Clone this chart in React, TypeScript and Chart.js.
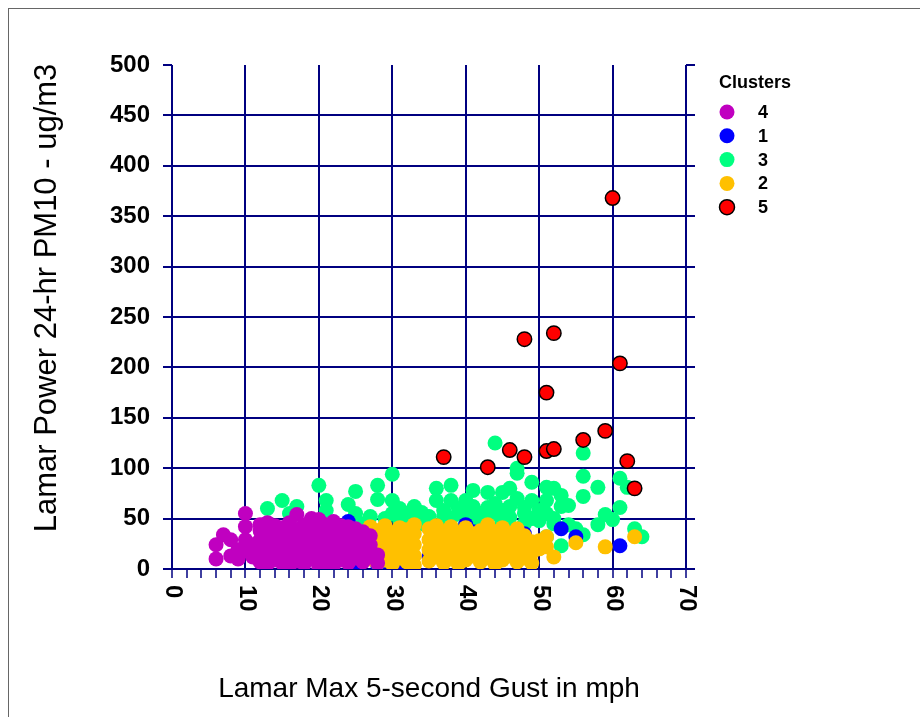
import React, { useEffect, useRef } from "react";
import { Chart, registerables } from "chart.js";

Chart.register(...registerables);

// ---------- DATA ----------
const legendLabels = ["4", "1", "3", "2", "5"];
const xTickLabels = [0, 10, 20, 30, 40, 50, 60, 70];
const xTitle = "Lamar Max 5-second Gust in mph";
const yTitle = "Lamar Power 24-hr PM10 - ug/m3";
const legendTitle = "Clusters";

// cluster 4 (purple)
const cluster4: [number, number][] = [
  [6, 24], [6, 10], [7, 34], [8, 29], [8, 13], [9, 19], [9, 10], [10, 55], [10, 42], [10, 29], [10, 18], [11, 12], [11, 24],
  [12, 7], [12, 16], [12, 29], [12, 38], [12, 44],
  [13, 5], [13, 21], [13, 33], [13, 46], [13, 12],
  [14, 9], [14, 26], [14, 37], [14, 18], [14, 43],
  [15, 6], [15, 14], [15, 30], [15, 41], [15, 22],
  [16, 11], [16, 24], [16, 35], [16, 46], [16, 4],
  [17, 8], [17, 19], [17, 28], [17, 39], [17, 54],
  [18, 5], [18, 15], [18, 33], [18, 44], [18, 24],
  [19, 10], [19, 21], [19, 37], [19, 50], [19, 29],
  [20, 2], [20, 13], [20, 25], [20, 41], [20, 33], [20, 49],
  [21, 7], [21, 18], [21, 30], [21, 44], [21, 36],
  [22, 4], [22, 14], [22, 26], [22, 38], [22, 47],
  [23, 9], [23, 20], [23, 33], [23, 43],
  [24, 6], [24, 15], [24, 27], [24, 36], [24, 42],
  [25, 11], [25, 22], [25, 31], [25, 40],
  [26, 7], [26, 18], [26, 28], [26, 37],
  [27, 12], [27, 24], [27, 33],
  [28, 14], [28, 6],
];

// cluster 1 (blue)
const cluster1: [number, number][] = [
  [24, 47], [26, 14], [25, 4], [28, 4], [29, 8], [31, 3], [35, 12], [38, 24], [40, 44], [41, 37],
  [42, 20], [44, 15], [46, 27], [46, 31], [48, 35], [53, 40], [55, 32], [61, 23],
];

// cluster 3 (green)
const cluster3: [number, number][] = [
  [13, 60], [15, 68], [17, 62], [16, 55], [20, 83], [21, 68], [21, 58], [24, 64], [25, 77], [25, 55],
  [26, 45], [28, 83], [28, 69], [27, 52], [30, 94], [30, 68], [31, 60], [33, 62], [32, 55], [30, 55],
  [29, 50], [31, 48], [33, 50], [34, 56], [35, 52], [35, 45], [36, 80], [36, 68], [37, 58], [37, 52],
  [38, 83], [38, 68], [38, 50], [39, 55], [39, 60], [40, 58], [40, 68], [41, 78], [41, 50], [41, 62],
  [42, 55], [42, 47], [43, 76], [43, 61], [43, 51], [44, 125], [44, 65], [44, 55], [45, 76], [45, 58],
  [45, 48], [46, 80], [46, 51], [46, 62], [47, 100], [47, 95], [47, 70], [48, 61], [48, 55], [49, 86],
  [49, 68], [49, 50], [50, 58], [50, 48], [51, 81], [51, 68], [51, 55], [52, 80], [52, 50], [52, 45],
  [53, 73], [53, 62], [54, 63], [54, 44], [56, 115], [56, 92], [56, 72], [56, 34], [53, 23], [58, 81],
  [58, 44], [59, 54], [60, 49], [61, 90], [61, 61], [62, 81], [63, 40], [64, 32], [51, 32], [55, 40],
  [37, 45], [40, 45], [34, 45], [32, 42], [36, 40], [46, 42], [48, 45], [44, 40],
];

// cluster 2 (orange)
const cluster2: [number, number][] = [
  [27, 10], [27, 22], [27, 35], [27, 42],
  [28, 6], [28, 16], [28, 28], [28, 38],
  [29, 9], [29, 20], [29, 31], [29, 43],
  [30, 5], [30, 14], [30, 25], [30, 36],
  [31, 11], [31, 22], [31, 32], [31, 41],
  [32, 7], [32, 18], [32, 29], [32, 39],
  [33, 4], [33, 13], [33, 24], [33, 35], [33, 44],
  [35, 8], [35, 19], [35, 29], [35, 40],
  [36, 12], [36, 23], [36, 34], [36, 43],
  [37, 6], [37, 16], [37, 27], [37, 37],
  [38, 10], [38, 20], [38, 31], [38, 42],
  [39, 5], [39, 15], [39, 26], [39, 36],
  [40, 9], [40, 19], [40, 30], [40, 41],
  [41, 13], [41, 24], [41, 35],
  [42, 7], [42, 17], [42, 28], [42, 38],
  [43, 11], [43, 22], [43, 33], [43, 44],
  [44, 5], [44, 15], [44, 26], [44, 37],
  [45, 9], [45, 20], [45, 31], [45, 41],
  [46, 13], [46, 24], [46, 35],
  [47, 7], [47, 18], [47, 29], [47, 40],
  [48, 11], [48, 22], [48, 33],
  [49, 6], [49, 16], [49, 27],
  [50, 20], [50, 28], [51, 32], [51, 22], [52, 12], [55, 26], [59, 22], [63, 32],
];

// cluster 5 (red)
const cluster5: [number, number][] = [
  [37, 111], [43, 101], [46, 118], [48, 228], [48, 111], [51, 175], [51, 117], [52, 119], [52, 234],
  [56, 128], [59, 137], [60, 368], [61, 204], [62, 107], [63, 80],
];

// ---------- STYLE ----------
const FONT = "'Liberation Sans', Arial, Helvetica, sans-serif";
const NAVY = "#000080";
const CLEAR = "rgba(0,0,0,0)";
const colors: Record<string, string> = {
  "4": "#C000C0",
  "1": "#0000FF",
  "3": "#00FF80",
  "2": "#FFC000",
  "5": "#FF0000",
};

const toPts = (arr: [number, number][]) => arr.map(([x, y]) => ({ x, y }));

const overlayPlugin = {
  id: "overlay",
  afterDraw(chart: any) {
    const ctx = chart.ctx as CanvasRenderingContext2D;
    const xs = chart.scales.x;
    const area = chart.chartArea;
    ctx.save();
    ctx.fillStyle = "#000";

    // x tick labels (rotated clockwise)
    ctx.font = `bold 24px ${FONT}`;
    ctx.textAlign = "left";
    ctx.textBaseline = "middle";
    xTickLabels.forEach((v) => {
      const px = xs.getPixelForValue(v);
      ctx.save();
      ctx.translate(px + 1, area.bottom + 16);
      ctx.rotate(Math.PI / 2);
      ctx.fillText(String(v), 0, 0);
      ctx.restore();
    });

    // axis titles
    ctx.font = `28px ${FONT}`;
    ctx.textAlign = "center";
    ctx.textBaseline = "alphabetic";
    ctx.fillText(xTitle, (area.left + area.right) / 2, 697);
    ctx.save();
    ctx.translate(56, 298);
    ctx.rotate(-Math.PI / 2);
    ctx.font = `31px ${FONT}`;
    ctx.fillText(yTitle, 0, 0);
    ctx.restore();

    // legend
    ctx.textAlign = "left";
    ctx.textBaseline = "middle";
    ctx.font = `bold 18px ${FONT}`;
    ctx.fillText(legendTitle, 719, 83);
    legendLabels.forEach((lab, i) => {
      const cy = 112 + i * 23.8;
      ctx.beginPath();
      ctx.arc(727, cy, 7.5, 0, Math.PI * 2);
      ctx.fillStyle = colors[lab];
      ctx.fill();
      if (lab === "5") {
        ctx.lineWidth = 1.5;
        ctx.strokeStyle = "#000";
        ctx.stroke();
      }
      ctx.fillStyle = "#000";
      ctx.fillText(lab, 758, cy + 1);
    });
    ctx.restore();
  },
};

export default function App() {
  const ref = useRef<HTMLCanvasElement | null>(null);

  useEffect(() => {
    if (!ref.current) return;
    const mk = (label: string, arr: [number, number][], order: number) => ({
      label,
      data: toPts(arr),
      backgroundColor: colors[label],
      borderColor: label === "5" ? "#000" : colors[label],
      borderWidth: label === "5" ? 1.5 : 0,
      pointRadius: label === "5" ? 7.2 : 7.5,
      pointHoverRadius: 7.5,
      order,
    });
    const chart = new Chart(ref.current, {
      type: "scatter",
      data: {
        datasets: [
          mk("4", cluster4, 1),
          mk("1", cluster1, 3),
          mk("3", cluster3, 4),
          mk("2", cluster2, 2),
          mk("5", cluster5, 0),
        ],
      },
      options: {
        responsive: false,
        animation: false,
        devicePixelRatio: 1,
        layout: { padding: { top: 65, right: 225, bottom: 0, left: 0 } },
        plugins: { legend: { display: false }, tooltip: { enabled: false } },
        scales: {
          x: {
            type: "linear",
            position: "bottom",
            min: 0,
            max: 70,
            ticks: { stepSize: 2, display: false, autoSkip: false },
            grid: {
              color: (c: any) => (c.tick && c.tick.value % 10 === 0 ? NAVY : CLEAR),
              tickColor: NAVY,
              lineWidth: 2,
              tickWidth: 1.5,
              tickLength: 9,
            },
            border: { display: false },
            afterFit: (s: any) => {
              s.height = 148;
            },
          },
          y: {
            type: "linear",
            position: "left",
            min: 0,
            max: 500,
            ticks: {
              stepSize: 50,
              padding: 13,
              color: "#000",
              font: { family: FONT, size: 24, weight: "bold" },
            },
            grid: {
              color: (c: any) => (c.tick && c.tick.value === 500 ? CLEAR : NAVY),
              tickColor: NAVY,
              lineWidth: 2,
              tickLength: 9,
            },
            border: { display: false },
            afterFit: (s: any) => {
              s.width = 172;
            },
          },
          y2: {
            type: "linear",
            position: "right",
            min: 0,
            max: 500,
            ticks: { stepSize: 50, display: false },
            grid: { drawOnChartArea: false, color: NAVY, tickColor: NAVY, lineWidth: 2, tickLength: 9 },
            border: { display: false },
            afterFit: (s: any) => {
              s.width = 9;
            },
          },
        },
      } as any,
      plugins: [overlayPlugin],
    });
    return () => chart.destroy();
  }, []);

  return (
    <div style={{ position: "fixed", left: 0, top: 0, width: 920, height: 717, overflow: "hidden", background: "#fff" }}>
      <div
        style={{
          position: "absolute",
          left: 8,
          top: 8,
          width: 1200,
          height: 1200,
          borderLeft: "1px solid #666",
          borderTop: "1px solid #666",
        }}
      />
      <canvas ref={ref} width={920} height={717} style={{ position: "absolute", left: 0, top: 0, width: 920, height: 717 }} />
    </div>
  );
}
